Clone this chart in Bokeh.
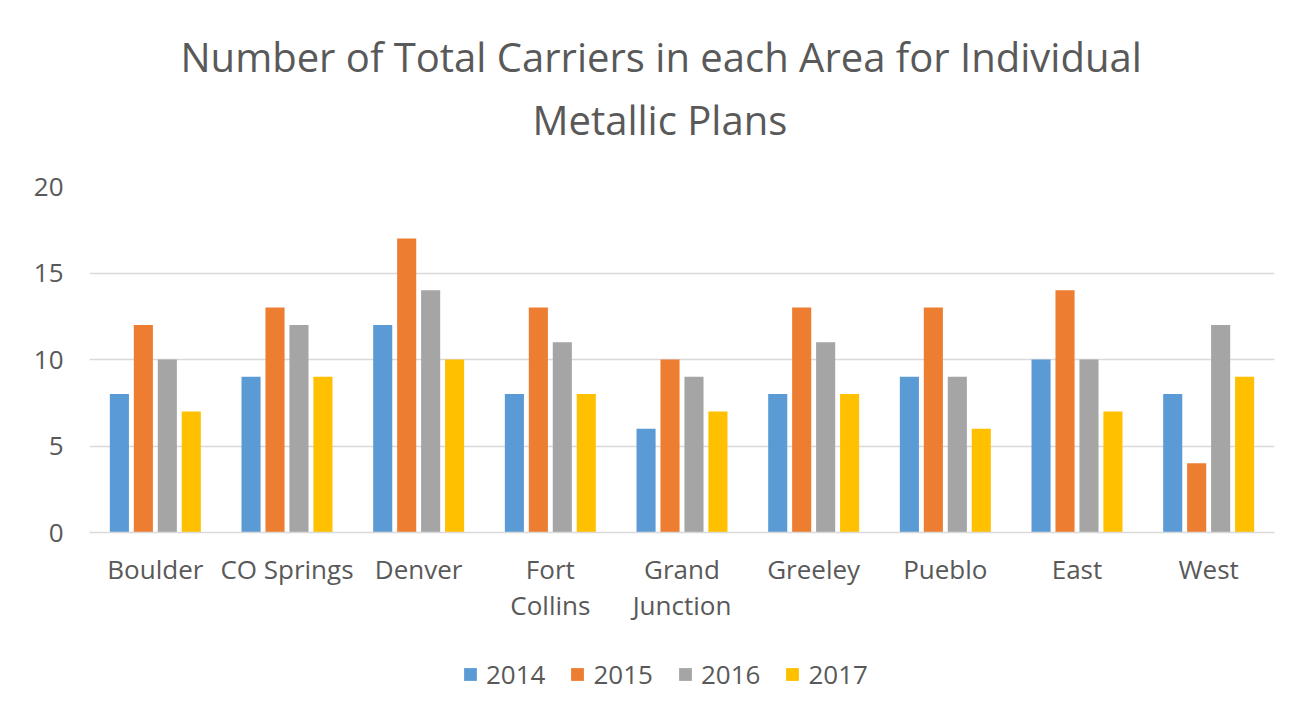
from bokeh.plotting import figure
from bokeh.models import ColumnDataSource, FactorRange, FixedTicker, Legend, LegendItem, Title, Range1d
from bokeh.layouts import column
from bokeh.transform import dodge
from bokeh.embed import file_html
from bokeh.resources import INLINE

areas = ["Boulder", "CO Springs", "Denver", "Fort Collins", "Grand Junction",
         "Greeley", "Pueblo", "East", "West"]
wrapped = {"Fort Collins": "Fort\nCollins", "Grand Junction": "Grand\nJunction"}
years = ["2014", "2015", "2016", "2017"]
v2014 = [8, 9, 12, 8, 6, 8, 9, 10, 8]
v2015 = [12, 13, 17, 13, 10, 13, 13, 14, 4]
v2016 = [10, 12, 14, 11, 9, 11, 9, 10, 12]
v2017 = [7, 9, 10, 8, 7, 8, 6, 7, 9]
y_ticks = [0, 5, 10, 15, 20]
colors = ["#5B9BD5", "#ED7D31", "#A5A5A5", "#FFC000"]
title_line1 = "Number of Total Carriers in each Area for Individual"
title_line2 = "Metallic Plans"

factors = [wrapped.get(a, a) for a in areas]
src = ColumnDataSource(data=dict(area=factors, y2014=v2014, y2015=v2015, y2016=v2016, y2017=v2017))

W, H_MAIN, H_LEG = 1295, 640, 69
p = figure(x_range=FactorRange(*factors, range_padding=0), y_range=(0, 20),
           width=W, height=H_MAIN, output_backend="svg", toolbar_location=None,
           min_border_left=89, min_border_right=21, min_border_top=186, min_border_bottom=108)
p.title = None
for txt, so, off in [(title_line2, 80, 443), (title_line1, -69, 91)]:
    p.add_layout(Title(text=txt, align="left", offset=off, text_font="Open Sans",
                       text_font_size="40px", text_font_style="normal",
                       text_color="#595959", standoff=so), "above")

offsets = [-0.273, -0.091, 0.091, 0.273]
for yr, off, col in zip(years, offsets, colors):
    p.vbar(x=dodge("area", off, range=p.x_range), top="y" + yr, width=0.145,
           source=src, fill_color=col, line_color=None)

p.outline_line_color = None
p.xgrid.grid_line_color = None
p.ygrid.grid_line_color = "#D9D9D9"
p.ygrid.grid_line_width = 1.5
p.ygrid.ticker = FixedTicker(ticks=y_ticks)

p.yaxis.ticker = FixedTicker(ticks=y_ticks)
p.yaxis.axis_line_color = None
p.yaxis.major_tick_line_color = None
p.yaxis.minor_tick_line_color = None
p.yaxis.major_label_text_font = "Open Sans"
p.yaxis.major_label_text_font_size = "26px"
p.yaxis.major_label_text_color = "#595959"
p.yaxis.major_label_standoff = 20

p.xaxis.axis_line_color = "#D9D9D9"
p.xaxis.axis_line_width = 1.5
p.xaxis.major_tick_line_color = None
p.xaxis.minor_tick_line_color = None
p.xaxis.major_label_text_font = "Open Sans"
p.xaxis.major_label_text_font_size = "26px"
p.xaxis.major_label_text_color = "#595959"
p.xaxis.major_label_text_line_height = 1.0
p.xaxis.major_label_standoff = 12
p.xaxis.major_label_orientation = "horizontal"

# legend strip below the chart (zero-height proxy bars carry the legend colours)
lf = figure(width=W, height=H_LEG, output_backend="svg", toolbar_location=None,
            min_border=0, x_axis_type=None, y_axis_type=None,
            x_range=Range1d(0, 1), y_range=Range1d(0, 1))
lf.outline_line_color = None
lf.grid.visible = False
items = []
for yr, col in zip(years, colors):
    r = lf.vbar(x=[0], top=[0], bottom=[0], width=0, fill_color=col, line_color=None)
    items.append(LegendItem(label=yr, renderers=[r]))
legend = Legend(items=items, orientation="horizontal", location=(373, 17),
                label_text_font="Open Sans", label_text_font_size="26px",
                label_text_color="#595959", glyph_width=16, glyph_height=16,
                label_standoff=8, spacing=24, border_line_color=None,
                background_fill_alpha=0, margin=0, padding=0)
lf.add_layout(legend, "center")

layout = column(p, lf, spacing=0)
open("out.html", "w").write(file_html(layout, INLINE))
